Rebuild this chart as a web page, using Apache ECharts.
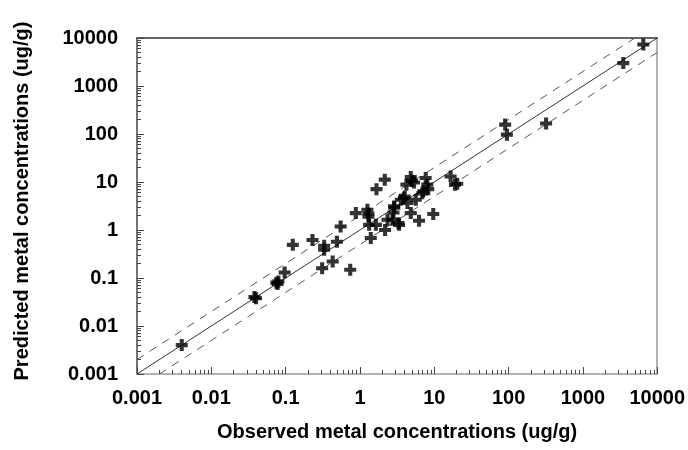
<!DOCTYPE html>
<html>
<head>
<meta charset="utf-8">
<script src="https://cdn.jsdelivr.net/npm/echarts@6/dist/echarts.min.js"></script>
<style>
html,body{margin:0;padding:0;background:#fff;}
#chart{width:688px;height:450px;}
</style>
</head>
<body>
<div id="chart"></div>
<script>
// ---- data ----
const observed = [0.004, 0.038, 0.040, 0.075, 0.080, 0.078, 0.097, 0.125, 0.23, 0.31,
  0.33, 0.33, 0.43, 0.49, 0.55, 0.74, 0.88, 1.26, 1.30, 1.33,
  1.40, 1.64, 1.67, 2.16, 2.18, 2.35, 2.74, 2.83, 2.88, 3.3,
  3.36, 3.55, 4.0, 4.36, 4.83, 4.83, 4.22, 5.35, 5.64, 6.24,
  7.67, 8.07, 7.13, 8.3, 9.7, 16.6, 19, 20.4, 90, 95,
  320, 3500, 6500, 6.9, 5.0, 2.9, 1.3, 3.9];
const predicted = [0.004, 0.040, 0.038, 0.080, 0.085, 0.075, 0.13, 0.49, 0.62, 0.16,
  0.47, 0.39, 0.22, 0.57, 1.18, 0.148, 2.25, 2.64, 1.9, 1.28,
  0.68, 1.28, 7.1, 11.2, 1.0, 1.63, 1.63, 2.32, 3.1, 1.39,
  1.28, 4.27, 5.0, 3.64, 2.25, 12.7, 8.8, 9.8, 4.27, 1.56,
  12.1, 8.8, 6.4, 7.1, 2.15, 13, 8.8, 9.2, 157, 97,
  165, 3000, 7300, 5.8, 10.5, 2.9, 2.2, 4.6];
const tickLabels = ['0.001', '0.01', '0.1', '1', '10', '100', '1000', '10000'];
const axisMin = 0.001, axisMax = 10000;
const lineFactors = [1, 2, 0.5];   // 1:1 line and factor-of-two band
const xTitle = 'Observed metal concentrations (ug/g)';
const yTitle = 'Predicted metal concentrations (ug/g)';

// minor tick values 2..9 in each decade
const minorTicks = [];
for (let d = -3; d < 4; d++) {
  for (let m = 2; m <= 9; m++) minorTicks.push(m * Math.pow(10, d));
}
function lineData(f) {
  const x0 = Math.max(axisMin, axisMin / f), x1 = Math.min(axisMax, axisMax / f);
  return [[x0, x0 * f], [x1, x1 * f]];
}
const labelFmt = v => tickLabels[Math.round(Math.log10(v)) + 3] || '';
const font = 'Liberation Sans, Arial, sans-serif';
const labelStyle = {fontFamily: font, fontWeight: 'bold', fontSize: 20, color: '#000'};

function mkAxis(isX, idx) {
  const base = {type: 'log', logBase: 10, min: axisMin, max: axisMax, splitLine: {show: false},
    axisLine: {show: false}, axisTick: {show: false}, axisLabel: {show: false}};
  if (idx === 0) {
    return Object.assign(base, {
      position: isX ? 'bottom' : 'left',
      axisLine: {show: true, onZero: false, lineStyle: {color: isX ? '#999' : '#444', width: 1.5}},
      axisTick: {show: true, inside: true, length: 7, lineStyle: {color: '#444', width: 1}},
      axisLabel: Object.assign({show: true, formatter: labelFmt, margin: isX ? 14 : 19}, labelStyle),
      name: isX ? xTitle : yTitle,
      nameLocation: 'middle',
      nameGap: isX ? 48 : 105,
      nameTextStyle: {fontFamily: font, fontWeight: 'bold', fontSize: 20, color: '#000',
        padding: isX ? [0, 0, 0, 0] : [0, 0, 0, 10]}
    });
  }
  if (idx === 1) {
    return Object.assign(base, {
      position: isX ? 'bottom' : 'left',
      axisTick: {show: true, inside: true, length: 4, customValues: minorTicks, lineStyle: {color: '#444', width: 1}}
    });
  }
  return Object.assign(base, {
    position: isX ? 'top' : 'right',
    axisLine: {show: true, onZero: false, lineStyle: {color: isX ? '#333' : '#999', width: 1.5}}
  });
}

const chart = echarts.init(document.getElementById('chart'), null, {renderer: 'canvas'});
const series = [];
lineFactors.forEach(f => {
  series.push({type: 'line', data: lineData(f), symbol: 'none', silent: true,
    lineStyle: {color: f === 1 ? '#333' : '#555', width: 1, type: f === 1 ? 'solid' : [8, 7]},
    xAxisIndex: 0, yAxisIndex: 0, z: 1});
});
series.push({type: 'scatter', xAxisIndex: 0, yAxisIndex: 0, z: 3,
  data: observed.map((x, i) => [x, predicted[i]]),
  symbol: 'path://M3.3,0H6.7V3.3H10V6.7H6.7V10H3.3V6.7H0V3.3H3.3Z',
  symbolSize: 12, itemStyle: {color: '#000'}});

chart.setOption({
  animation: false,
  backgroundColor: '#fff',
  grid: {left: 137, right: 29, top: 38, bottom: 76},
  xAxis: [mkAxis(true, 0), mkAxis(true, 1), mkAxis(true, 2)],
  yAxis: [mkAxis(false, 0), mkAxis(false, 1), mkAxis(false, 2)],
  series: series
});
</script>
</body>
</html>
